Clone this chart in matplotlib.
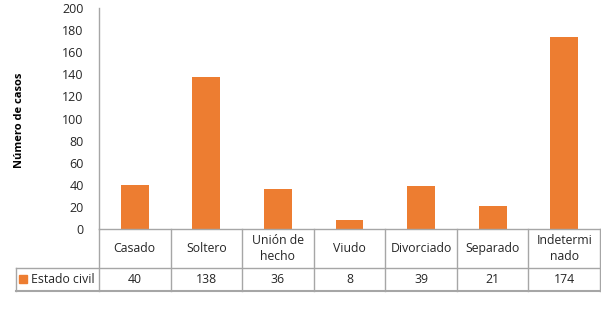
import matplotlib.pyplot as plt

categorias = ["Casado", "Soltero", "Unión de\nhecho", "Viudo", "Divorciado", "Separado", "Indetermi\nnado"]
casos = [40, 138, 36, 8, 39, 21, 174]
serie = "Estado civil"
y_ticks = list(range(0, 201, 20))

W, H = 601, 324
naranja = "#ED7D31"
gris = "#A6A6A6"
texto = "#262626"
plt.rcParams["font.family"] = ["Open Sans", "DejaVu Sans"]

fig = plt.figure(figsize=(W / 100, H / 100), dpi=100)

# plot area in pixels: x 99..600, y 8..229
x0, x1, ytop, ybot = 99, 600, 8, 229
ax = fig.add_axes([x0 / W, 1 - ybot / H, (x1 - x0) / W, (ybot - ytop) / H])
pos = range(len(casos))
ax.bar(pos, casos, width=0.39, color=naranja)
ax.set_xlim(-0.5, len(casos) - 0.5)
ax.set_ylim(0, 200)
ax.set_yticks(y_ticks)
ax.tick_params(axis="y", length=0, labelsize=9, colors=texto, pad=11)
ax.set_xticks([])
for s in ["top", "right"]:
    ax.spines[s].set_visible(False)
for s in ["left", "bottom"]:
    ax.spines[s].set_color(gris)
    ax.spines[s].set_linewidth(1)
fig.text(20 / W, 1 - 120 / H, "Número de casos", rotation=90, ha="center", va="center",
         fontsize=8, fontweight="bold", color="black")

# data table below the plot, drawn in pixel coordinates
tx0, trow, tbot = 16, 268, 291
tab = fig.add_axes([0, 0, 1, 1])
tab.set_xlim(0, W)
tab.set_ylim(H, 0)
tab.axis("off")
cw = (x1 - x0) / len(categorias)
tab.plot([x0, x0], [ybot, tbot], color=gris, lw=1)
tab.plot([tx0, x1], [trow, trow], color=gris, lw=1)
tab.plot([tx0, x1], [tbot, tbot], color=gris, lw=1.5)
tab.plot([tx0, tx0], [trow, tbot], color=gris, lw=1)
for i in range(len(categorias)):
    xr = x0 + (i + 1) * cw
    tab.plot([xr, xr], [ybot, tbot], color=gris, lw=1)
    xc = x0 + (i + 0.5) * cw
    tab.text(xc, (ybot + trow) / 2, categorias[i], ha="center", va="center",
             fontsize=8.8, color=texto, linespacing=1.4)
    tab.text(xc, (trow + tbot) / 2, str(casos[i]), ha="center", va="center",
             fontsize=8.8, color=texto)
tab.add_patch(plt.Rectangle((19, 275), 8, 8, color=naranja))
tab.text(31, (trow + tbot) / 2, serie, ha="left", va="center", fontsize=8.8, color=texto)

fig.savefig("out.png", dpi=100)
